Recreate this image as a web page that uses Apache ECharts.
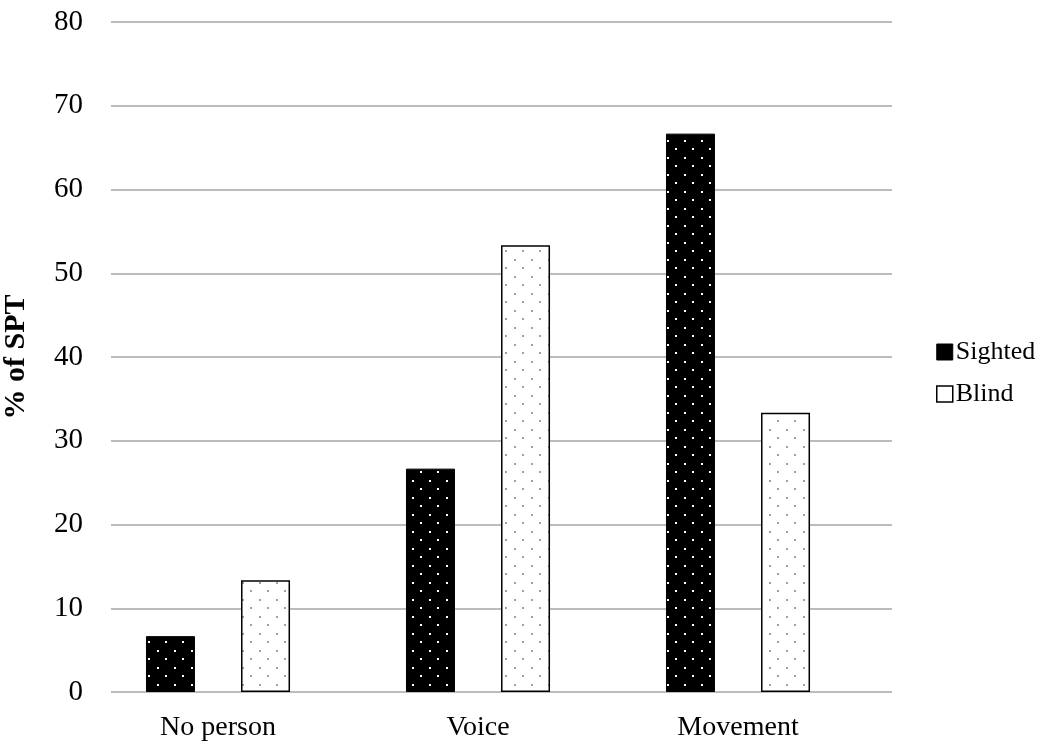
<!DOCTYPE html>
<html>
<head>
<meta charset="utf-8">
<script src="https://cdn.jsdelivr.net/npm/echarts@6/dist/echarts.min.js"></script>
<style>html,body{margin:0;padding:0;background:#fff}#c{width:1062px;height:751px}</style>
</head>
<body>
<div id="c"></div>
<script>
const categories = ['No person', 'Voice', 'Movement'];
const sighted = [6.67, 26.67, 66.67];
const blind = [13.33, 53.33, 33.33];
const yTicks = [0, 10, 20, 30, 40, 50, 60, 70, 80];

function makePattern(bg, dot) {
  const c = document.createElement('canvas');
  c.width = 17; c.height = 17;
  const g = c.getContext('2d');
  g.fillStyle = bg; g.fillRect(0, 0, 17, 17);
  g.fillStyle = dot;
  g.fillRect(4, 4, 2, 2);
  g.fillRect(12, 12, 2, 2);
  return c;
}
const font = 'Liberation Serif';
const FS = 28;
const chart = echarts.init(document.getElementById('c'), null, {renderer: 'canvas'});
chart.setOption({
  animation: false,
  backgroundColor: '#fff',
  textStyle: {fontFamily: font, color: '#000'},
  grid: [
    {left: 88, right: 194, top: 22, bottom: 59, outerBoundsMode: 'none', containLabel: false},
    {left: 111, right: 170, top: 22, bottom: 59, outerBoundsMode: 'none', containLabel: false}
  ],
  legend: {
    orient: 'vertical',
    left: 931, top: 334,
    itemWidth: 16, itemHeight: 16, itemGap: 16,
    icon: 'rect',
    textStyle: {fontFamily: font, fontSize: 26, color: '#000', padding: [0, 0, 0, -2]},
    data: [
      {name: 'Sighted', itemStyle: {color: '#000', borderColor: '#000', borderWidth: 1}},
      {name: 'Blind', itemStyle: {color: '#fff', borderColor: '#000', borderWidth: 1.5}}
    ]
  },
  xAxis: [
    {type: 'category', gridIndex: 0, data: categories,
     axisLine: {show: false}, axisTick: {show: false},
     axisLabel: {fontFamily: font, fontSize: FS, color: '#000', margin: 22}},
    {type: 'category', gridIndex: 1, data: categories, show: false}
  ],
  yAxis: [
    {type: 'value', gridIndex: 0, min: 0, max: 80, interval: 10, show: false, splitLine: {show: false}},
    {type: 'value', gridIndex: 1, min: 0, max: 80, interval: 10,
     name: '% of SPT', nameLocation: 'middle', nameGap: 80,
     nameTextStyle: {fontFamily: font, fontSize: 30, fontWeight: 'bold', color: '#000'},
     axisLine: {show: false}, axisTick: {show: false},
     axisLabel: {fontFamily: font, fontSize: FS + 1, color: '#000', margin: 28,
       formatter: v => yTicks.includes(v) ? String(v) : ''},
     splitLine: {show: true, lineStyle: {color: '#a6a6a6', width: 1.5}}}
  ],
  series: [
    {name: 'Sighted', type: 'bar', xAxisIndex: 0, yAxisIndex: 0, data: sighted,
     barWidth: 49, barGap: '94%',
     itemStyle: {color: {image: makePattern('#000', '#fff'), repeat: 'repeat'}, borderColor: '#000', borderWidth: 1}},
    {name: 'Blind', type: 'bar', xAxisIndex: 0, yAxisIndex: 0, data: blind,
     barWidth: 49,
     itemStyle: {color: {image: makePattern('#fff', '#a0a0a0'), repeat: 'repeat'}, borderColor: '#000', borderWidth: 1.5}}
  ]
});
</script>
</body>
</html>
